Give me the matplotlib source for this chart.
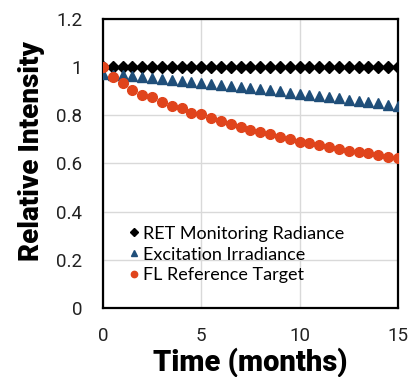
import numpy as np
import matplotlib
matplotlib.use("Agg")
import matplotlib.pyplot as plt

# time in months, sampled every half month
months = np.arange(0, 15.5, 0.5)

ret_radiance = [1.0] * 31

excitation = [0.970, 0.968, 0.965, 0.962, 0.958, 0.955, 0.951, 0.948, 0.944, 0.938,
              0.934, 0.930, 0.926, 0.922, 0.918, 0.912, 0.908, 0.903, 0.899, 0.893,
              0.889, 0.884, 0.880, 0.875, 0.870, 0.864, 0.860, 0.855, 0.850, 0.844,
              0.838]

fl_target = [1.000, 0.957, 0.932, 0.905, 0.884, 0.874, 0.856, 0.838, 0.829, 0.811,
             0.805, 0.787, 0.776, 0.762, 0.750, 0.739, 0.732, 0.721, 0.711, 0.701,
             0.690, 0.683, 0.676, 0.667, 0.660, 0.653, 0.647, 0.642, 0.635, 0.628,
             0.621]

labels = ['RET Monitoring Radiance', 'Excitation Irradiance', 'FL Reference Target']

fig = plt.figure(figsize=(4.17, 3.77), dpi=100)
ax = fig.add_axes([0.247, 0.183, 0.707, 0.767])

ax.plot(months, ret_radiance, 'D', color='black', markersize=6, label=labels[0], zorder=3)
ax.plot(months, excitation, '^', color='#1f4e79', markersize=7.5, label=labels[1], zorder=3)
ax.plot(months, fl_target, 'o', color='#e0441c', markersize=7, label=labels[2], zorder=4)

ax.set_xlim(0, 15)
ax.set_ylim(0, 1.2)
ax.set_xticks([0, 5, 10, 15])
ax.set_yticks([0, 0.2, 0.4, 0.6, 0.8, 1.0, 1.2])
ax.set_yticklabels(['0', '0.2', '0.4', '0.6', '0.8', '1', '1.2'])
ax.grid(True, color='#d9d9d9', linewidth=1)
ax.set_axisbelow(True)
for s in ax.spines.values():
    s.set_linewidth(1.6)
    s.set_color('black')

ax.tick_params(length=0, labelsize=13.5)
ax.tick_params(axis='x', pad=14)
ax.tick_params(axis='y', pad=15)
for t in ax.get_xticklabels() + ax.get_yticklabels():
    t.set_fontfamily('Roboto')
    t.set_color('#222222')

ax.set_xlabel('Time (months)', fontsize=21, fontweight='black', family='Roboto')
ax.xaxis.set_label_coords(0.5, -0.135)
ax.set_ylabel('Relative Intensity', fontsize=20, fontweight='black', family='Roboto')
ax.yaxis.set_label_coords(-0.197, 0.543)

leg = ax.legend(loc='lower left', bbox_to_anchor=(0.06, 0.06), frameon=False,
                prop={'family': 'Lato', 'size': 13}, handletextpad=0.15,
                handlelength=0.7, borderaxespad=0, labelspacing=0.27, markerscale=0.65)

fig.savefig('out.png', dpi=100)
